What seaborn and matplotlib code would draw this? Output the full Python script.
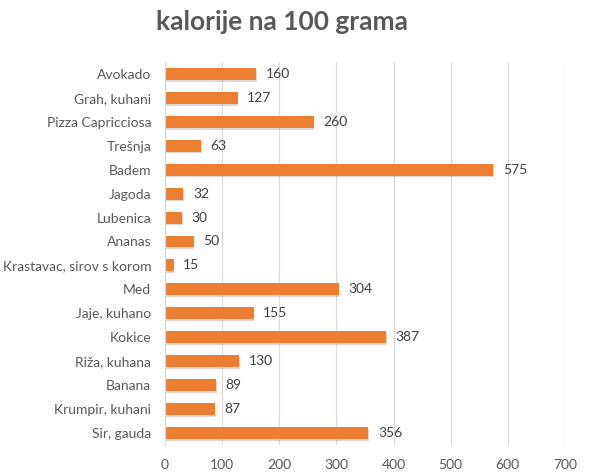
import matplotlib
matplotlib.use("Agg")
import matplotlib.pyplot as plt
import matplotlib.patheffects as pe
import seaborn as sns
import pandas as pd

foods = ["Avokado", "Grah, kuhani", "Pizza Capricciosa", "Trešnja", "Badem", "Jagoda",
         "Lubenica", "Ananas", "Krastavac, sirov s korom", "Med", "Jaje, kuhano", "Kokice",
         "Riža, kuhana", "Banana", "Krumpir, kuhani", "Sir, gauda"]
calories = [160, 127, 260, 63, 575, 32, 30, 50, 15, 304, 155, 387, 130, 89, 87, 356]
xticks = [0, 100, 200, 300, 400, 500, 600, 700]

df = pd.DataFrame({"food": foods, "kcal": calories})

sns.set_theme(style="white")
plt.rcParams['font.family'] = ['Lato', 'DejaVu Sans']

fig = plt.figure(figsize=(5.99, 4.76), dpi=100)
ax = fig.add_axes([0.2755, 0.065, 0.943 - 0.2755, 0.870 - 0.065])

sns.barplot(data=df, x="kcal", y="food", orient="h", color="#ED7D31",
            saturation=1, width=0.5, linewidth=0, ax=ax)

for p in ax.patches:
    p.set_path_effects([pe.SimplePatchShadow(offset=(0.5, -1.3), alpha=0.15, shadow_rgbFace="#000000"),
                        pe.Normal()])

for i, v in enumerate(calories):
    ax.text(v + 17, i, str(v), va="center", ha="left", fontsize=10, color="#404040")

ax.set_xlim(0, 700)
ax.set_ylim(15.5, -0.5)
ax.set_xticks(xticks)
ax.set_xticklabels([str(t) for t in xticks], fontsize=10, color="#595959")
ax.tick_params(axis="y", labelsize=10, labelcolor="#595959", length=0, pad=10)
ax.tick_params(axis="x", length=0, pad=10)
ax.xaxis.grid(True, color="#D9D9D9", linewidth=0.9)
ax.set_axisbelow(True)
for s in ["top", "right", "bottom"]:
    ax.spines[s].set_visible(False)
ax.spines["left"].set_color("#D9D9D9")
ax.spines["left"].set_linewidth(0.9)
ax.set_xlabel("")
ax.set_ylabel("")

fig.text(0.471, 0.953, "kalorije na 100 grama", ha="center", va="center",
         fontsize=19, fontweight="bold", color="#595959")

fig.savefig("out.png", dpi=100)
